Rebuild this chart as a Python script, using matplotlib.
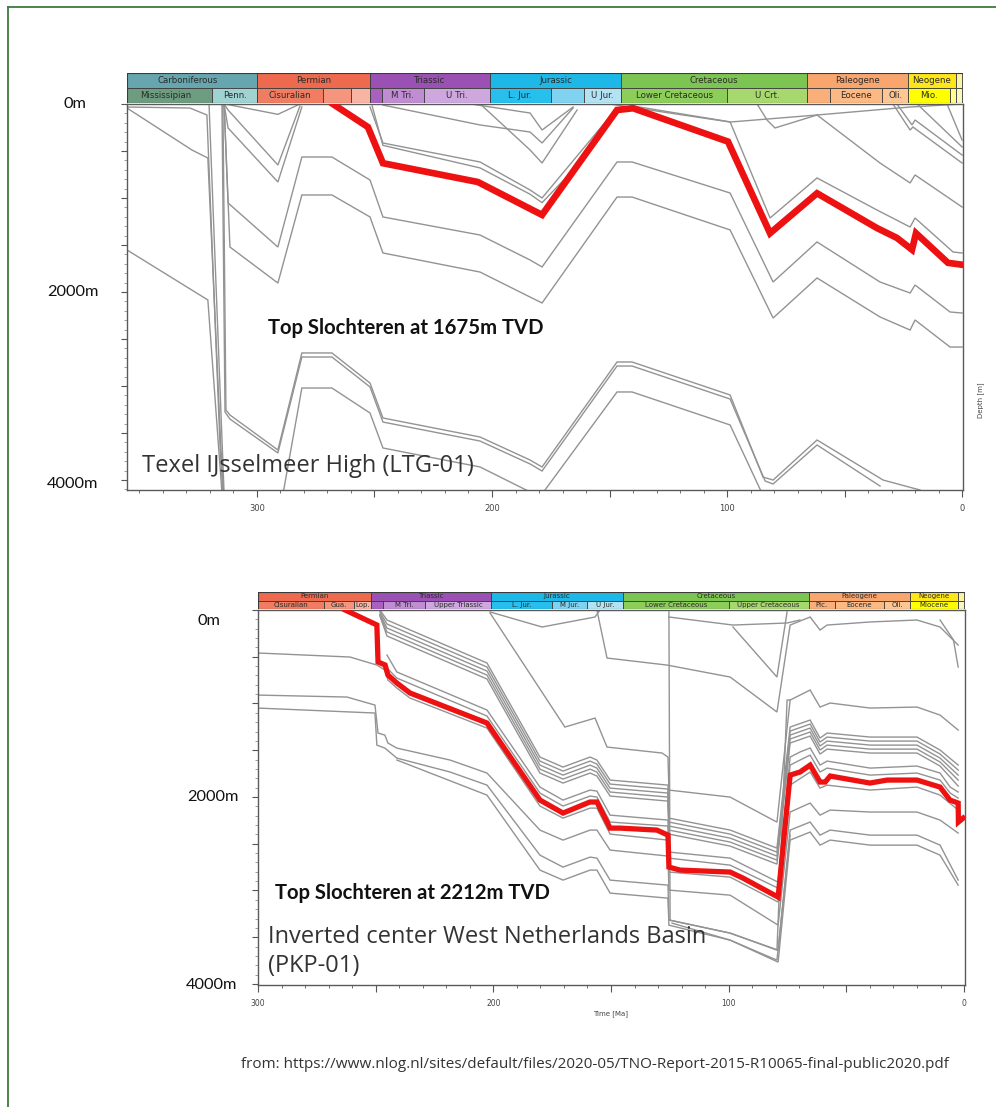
import matplotlib
matplotlib.use("Agg")
import matplotlib.pyplot as plt
from matplotlib.patches import Rectangle
from matplotlib.ticker import MultipleLocator, FixedLocator, FuncFormatter
from matplotlib.lines import Line2D

W, H = 996, 1107

# ---------------- stratigraphy bars ----------------
TOP_PERIODS = [("Carboniferous", 358.9, 300, "#67A6AE"), ("Permian", 300, 252, "#EE6A4E"),
               ("Triassic", 252, 201, "#9B51B4"), ("Jurassic", 201, 145, "#1EB8E8"),
               ("Cretaceous", 145, 66, "#7DC552"), ("Paleogene", 66, 23, "#F9A56E"),
               ("Neogene", 23, 2.6, "#FFE619"), ("", 2.6, 0, "#F9F5A0")]
TOP_EPOCHS = [("Mississipian", 358.9, 319, "#6E9C80"), ("Penn.", 319, 300, "#A0D2D2"),
              ("Cisuralian", 300, 272, "#F07D62"), ("", 272, 260, "#F5957E"), ("", 260, 252, "#F8B5A3"),
              ("", 252, 247, "#A961C0"), ("M Tri.", 247, 229, "#C18DD2"), ("U Tri.", 229, 201, "#CEA7DE"),
              ("L. Jur.", 201, 175, "#27C0EE"), ("", 175, 161, "#7FD3F0"), ("U Jur.", 161, 145, "#B3E3F3"),
              ("Lower Cretaceous", 145, 100, "#8DCD5A"), ("U Crt.", 100, 66, "#A7D86E"),
              ("", 66, 56, "#FAAE79"), ("Eocene", 56, 33.9, "#FCB983"), ("Oli.", 33.9, 23, "#FDC794"),
              ("Mio.", 23, 5.3, "#FFFF00"), ("", 5.3, 2.6, "#FFFF90"), ("", 2.6, 0, "#F9F8C0")]
BOT_PERIODS = [("Permian", 300, 252, "#EE6A4E"), ("Triassic", 252, 201, "#9B51B4"),
               ("Jurassic", 201, 145, "#1EB8E8"), ("Cretaceous", 145, 66, "#7DC552"),
               ("Paleogene", 66, 23, "#F9A56E"), ("Neogene", 23, 2.6, "#FFE619"), ("", 2.6, 0, "#F9F5A0")]
BOT_EPOCHS = [("Cisuralian", 300, 272, "#F07D62"), ("Gua.", 272, 259, "#F5957E"), ("Lop.", 259, 252, "#F8B5A3"),
              ("", 252, 247, "#A961C0"), ("M Tri.", 247, 229, "#C18DD2"), ("Upper Triassic", 229, 201, "#CEA7DE"),
              ("L. Jur.", 201, 175, "#27C0EE"), ("M Jur.", 175, 160, "#7FD3F0"), ("U Jur.", 160, 145, "#B3E3F3"),
              ("Lower Cretaceous", 145, 100, "#8DCD5A"), ("Upper Cretaceous", 100, 66, "#A7D86E"),
              ("Plc.", 66, 55, "#FAAE79"), ("Eocene", 55, 34, "#FCB983"), ("Oli.", 34, 23, "#FDC794"),
              ("Miocene", 23, 2.5, "#FFFF00"), ("", 2.5, 0, "#F9F8C0")]

# ---------------- top well (LTG-01): age [Ma], depth [m] ----------------
TOP_RED_AGE = [267.7, 252.8, 246.4, 206, 178.7, 146.8, 140, 99.6, 81.7, 61.7, 36.2, 27.7, 21.3, 19.6, 6, 0]
TOP_RED_DEPTH = [0, 245, 630, 830, 1180, 64, 45, 400, 1375, 950, 1320, 1425, 1550, 1375, 1690, 1710]

TOP_C1 = ([355.3, 328.5, 321.3, 315.7, 314.5], [32, 43, 117, 3650, 4139])
TOP_C2 = ([355.3, 327.7, 320.9, 315.3, 314], [43, 489, 575, 3681, 4213])
TOP_C3 = ([355.3, 320.9, 314.9], [1553, 2085, 4139])
TOP_C4 = ([320.4, 314], [0, 4139])
TOP_B1 = ([314.5, 313.2, 311.5, 291.1, 280.9, 268.1, 251.9, 246.4, 205.1, 183.8, 178.7, 146.8, 140.4, 98.7, 84.7, 80.4, 61.7, 33.6, 17.9],
          [0, 3256, 3309, 3681, 2649, 2649, 2969, 3341, 3543, 3788, 3862, 2745, 2745, 3096, 3969, 4001, 3575, 4001, 4107])
TOP_B2 = ([314.9, 313.6, 311.5, 291.1, 280.9, 268.1, 251.9, 246.4, 205.1, 183.8, 178.7, 146.8, 140.4, 98.7, 83.8, 80.4, 61.7, 34.9],
          [0, 3277, 3352, 3713, 2692, 2692, 3011, 3384, 3586, 3830, 3905, 2788, 2788, 3139, 4011, 4043, 3628, 4065])
TOP_B3 = ([289, 280.9, 268.1, 251.9, 246.4, 205.1, 179.6, 146.8, 140.4, 98.7, 83.8],
          [4160, 3022, 3022, 3288, 3660, 3862, 4180, 3064, 3064, 3415, 4213])
TOP_V0 = ([313.6, 291.1, 281.7], [0, 110, 0])
TOP_V1 = ([314, 312.3, 291.1, 281.7], [0, 64, 649, 21])
TOP_V2 = ([314, 312.3, 291.1, 280.9], [0, 255, 830, 32])
TOP_V3 = ([314, 312.3, 291.1, 280.9, 268.1, 251.9, 246.4, 205.1, 183.8, 178.7, 146.8, 140.4, 98.7, 80.4, 61.7, 34.9, 22.1, 20, 5.1, 0],
          [0, 1053, 1522, 564, 564, 809, 1202, 1394, 1660, 1734, 617, 617, 947, 1894, 1468, 1894, 2011, 1926, 2213, 2224])
TOP_V4 = ([314, 311.5, 291.1, 280.9, 268.1, 251.9, 246.4, 205.1, 183.8, 178.7, 146.8, 140.4, 98.7, 80.4, 61.7, 34.9, 22.1, 20, 5.1, 0],
          [0, 1522, 1905, 968, 968, 1202, 1585, 1788, 2054, 2117, 990, 990, 1340, 2277, 1851, 2266, 2405, 2298, 2586, 2586])
TOP_A1 = ([251.9, 246.4, 205.1, 183.8, 178.7, 146.8, 140, 98.7, 81.7, 61.7, 36.2, 22.1, 20, 3.8, 0],
          [32, 415, 617, 915, 1000, 43, 21, 190, 1213, 787, 1128, 1309, 1213, 1575, 1585])
TOP_A2 = ([251, 246.4, 205.1, 183.8, 178.7, 160, 147], [21, 440, 680, 960, 1050, 560, 60])
TOP_S1 = ([150, 98.7, 61.7, 22.1, 0], [0, 192, 117, 32, 0])
TOP_S2 = ([87.2, 83, 79.6, 61.7], [0, 170, 255, 117])
TOP_R1 = ([61.7, 34.9, 22.1, 20, 0], [117, 628, 840, 755, 1096])
TOP_R2 = ([29.4, 22.1, 20.9, 0], [0, 277, 245, 628])
TOP_R3 = ([27.7, 21.3, 20, 0], [0, 223, 170, 543])
TOP_R4 = ([19.1, 0], [0, 457])
TOP_R5 = ([6.4, 0], [0, 383])
TOP_U1 = ([209, 183.8, 178.7, 165.5], [0, 96, 277, 32])
TOP_U2 = ([246.4, 205.1, 183.8, 178.7, 165.5], [11, 223, 298, 415, 43])
TOP_U3 = ([205, 183.8, 178.7, 163.8], [0, 489, 628, 64])

TOP_GRAY = [TOP_C1, TOP_C2, TOP_C3, TOP_C4, TOP_B1, TOP_B2, TOP_B3, TOP_V0, TOP_V1, TOP_V2, TOP_V3,
            TOP_V4, TOP_A1, TOP_A2, TOP_S1, TOP_S2, TOP_R1, TOP_R2, TOP_R3, TOP_R4, TOP_R5,
            TOP_U1, TOP_U2, TOP_U3]

# ---------------- bottom well (PKP-01) ----------------
BOT_RED_AGE = [263, 249.5, 249, 246, 244.8, 241, 235.4, 202.7, 180.2, 170.4, 159, 156, 150.4, 146.2, 130.5,
               125.8, 125.4, 120.7, 99.4, 93.9, 79, 73.9, 69.7, 65.4, 61.2, 59, 56.9, 40, 32.7, 20, 10.2, 6,
               2.5, 2.4, 0.4]
BOT_RED_DEPTH = [0, 160, 556, 588, 695, 781, 888, 1209, 2033, 2172, 2054, 2054, 2333, 2333, 2354,
                 2408, 2750, 2782, 2803, 2868, 3071, 1766, 1733, 1659, 1840, 1840, 1776, 1851, 1819, 1819, 1894, 2033,
                 2065, 2268, 2226]

BOT_RB1 = ([300, 260.9, 249.5, 246.1, 244.8, 241, 235.4, 202.7, 180.2, 170.4, 158.9, 156, 150.4, 125.8, 125.4, 99.4,
            79, 73.9, 65.4, 61.2, 58.2, 39.9, 20, 10.2, 2.5],
           [460, 503, 589, 642, 749, 835, 942, 1263, 2097, 2226, 2119, 2119, 2397, 2461, 2803, 2857,
            3124, 1873, 1733, 1905, 1873, 1926, 1894, 1980, 2140])
BOT_RB2 = ([300, 262.2, 250.3, 249, 246.1, 244.8, 241, 218.4, 202.7, 180.2, 170.4, 158.9, 156, 150.4, 125.8, 125.4,
            99.4, 79, 73.9, 65.4, 61.2, 56.9, 39.9, 20, 10.2, 2.5],
           [910, 931, 1017, 1316, 1338, 1423, 1477, 1605, 1744, 2354, 2461, 2354, 2354, 2568, 2632, 2996,
            3050, 3371, 2161, 2065, 2194, 2140, 2161, 2161, 2247, 2386])
BOT_RB3 = ([300, 250.3, 249.5, 246.1, 241, 218.4, 202.7, 180.2, 170.4, 158.9, 156, 150.4, 125.8, 125.4, 99.4, 79,
            73.9, 65.4, 61.2, 56.9, 39.9, 20, 10.2, 2.5],
           [1049, 1102, 1445, 1477, 1584, 1733, 1873, 2622, 2750, 2643, 2654, 2889, 2943, 3317, 3456, 3638,
            2354, 2268, 2408, 2354, 2408, 2408, 2515, 2889])
BOT_RB4 = ([241, 202.7, 180.2, 170.4, 158.9, 156, 150.4, 125.8, 125.4, 99.4, 79, 73.9, 65.4, 61.2, 56.9, 39.9, 20,
            10.2, 2.5],
           [1605, 1980, 2782, 2889, 2782, 2782, 3028, 3082, 3371, 3531, 3766, 2461, 2375, 2515, 2461, 2515, 2515,
            2622, 2943])
BOT_CL_AGE = [248.2, 245.2, 202.7, 180.2, 170.4, 158.9, 156, 150.4, 125.8, 125.4, 99.4, 79.5, 73.9, 65.4, 61.2,
              58.2, 39.9, 20, 10.2, 2.5]
BOT_CL1 = [0, 107, 567, 1573, 1680, 1573, 1605, 1819, 1873, 2226, 2354, 2547, 1252, 1177, 1370, 1316, 1359, 1359, 1498, 1659]
BOT_CL2 = [21, 150, 610, 1616, 1723, 1616, 1648, 1862, 1915, 2268, 2397, 2590, 1295, 1220, 1413, 1359, 1402, 1402, 1541, 1712]
BOT_CL3 = [43, 193, 653, 1659, 1766, 1659, 1691, 1905, 1958, 2311, 2440, 2632, 1338, 1263, 1455, 1402, 1445, 1445, 1584, 1766]
BOT_CL4 = [54, 235, 696, 1702, 1808, 1702, 1734, 1947, 2001, 2354, 2482, 2675, 1380, 1305, 1498, 1445, 1488, 1488, 1626, 1819]
BOT_CL5 = [64, 278, 738, 1744, 1851, 1744, 1776, 1990, 2044, 2397, 2525, 2718, 1423, 1348, 1541, 1488, 1530, 1530, 1669, 1883]
BOT_RA_AGE = [245.2, 241, 202.7, 180.2, 170.4, 158.9, 156, 150.4, 125.8, 125.4, 99.4, 79, 73.9, 69.7, 65.4, 61.2,
              58.2, 39.9, 20, 10.2, 5.9, 2.5]
BOT_RA1 = [621, 728, 1134, 1958, 2097, 1990, 2001, 2268, 2311, 2654, 2729, 2975, 1659, 1605, 1552, 1733, 1691, 1766,
           1744, 1819, 1958, 2012]
BOT_RA2 = [482, 663, 1070, 1894, 2033, 1926, 1937, 2194, 2247, 2589, 2654, 2911, 1573, 1519, 1476, 1659, 1616, 1691,
           1669, 1744, 1894, 1947]
BOT_T1 = ([201.4, 179.3, 156.8, 154.7], [21, 182, 75, 0])
BOT_T2 = ([201.4, 169.6, 156.8, 151.7, 128.3, 125.8, 125.4, 99.4, 79.5, 73.9, 65.4, 61.2, 56.9, 39.9, 20, 10.2, 2.5],
          [32, 1252, 1156, 1466, 1530, 1573, 1926, 2001, 2269, 963, 856, 1038, 995, 1049, 1038, 1124, 1284])
BOT_T3 = ([156, 151.7, 126.2, 99.4, 79.5, 73.9, 65.4, 61.2, 58.2, 39.9, 20, 10.2, 2.5],
          [0, 514, 589, 717, 1091, 161, 75, 214, 161, 128, 107, 182, 375])
BOT_T4 = ([125.4, 124.9, 99.4, 79.5, 75.2, 73.9], [21, 3317, 3456, 3638, 963, 963])
BOT_T5 = ([124.1, 99.4, 79.5, 73.9], [3349, 3531, 3745, 2408])
BOT_T6 = ([125.4, 98.2, 75.2, 69.7], [75, 161, 139, 107])
BOT_T7 = ([98.2, 79.5, 75.2], [182, 717, 21])
BOT_T8 = ([10.2, 4.5, 2.5], [107, 320, 610])

BOT_GRAY = [BOT_RB1, BOT_RB2, BOT_RB3, BOT_RB4, (BOT_CL_AGE, BOT_CL1), (BOT_CL_AGE, BOT_CL2),
            (BOT_CL_AGE, BOT_CL3), (BOT_CL_AGE, BOT_CL4), (BOT_CL_AGE, BOT_CL5), (BOT_RA_AGE, BOT_RA1),
            (BOT_RA_AGE, BOT_RA2), BOT_T1, BOT_T2, BOT_T3, BOT_T4, BOT_T5, BOT_T6, BOT_T7, BOT_T8]

GRAY = "#939393"
RED = "#EE1111"

fig = plt.figure(figsize=(W / 100, H / 100), dpi=100)
fig.patch.set_facecolor("white")


def box(x0, y0, x1, y1):
    return [x0 / W, 1 - y1 / H, (x1 - x0) / W, (y1 - y0) / H]


def strat_bar(rect, xlim, periods, epochs, fs):
    a = fig.add_axes(rect)
    a.set_xlim(*xlim)
    a.set_ylim(0, 2)
    a.axis("off")
    for row, items in ((1, periods), (0, epochs)):
        for name, start, end, col in items:
            a.add_patch(Rectangle((end, row), start - end, 1, facecolor=col, edgecolor="#3a3a3a", lw=0.6))
            if name:
                a.text((start + end) / 2, row + 0.5, name, ha="center", va="center", fontsize=fs,
                       color="#2a2a2a", clip_on=True)
    a.add_patch(Rectangle((xlim[1], 0), xlim[0] - xlim[1], 2, fill=False, edgecolor="#3a3a3a", lw=0.8))
    return a


def style_axes(a, xlim, ylim, fs):
    a.set_xlim(*xlim)
    a.set_ylim(*ylim)
    a.xaxis.set_major_locator(FixedLocator([300, 250, 200, 150, 100, 50, 0]))
    a.xaxis.set_major_formatter(FuncFormatter(lambda v, p: f"{v:.0f}" if round(v) % 100 == 0 else ""))
    a.xaxis.set_minor_locator(MultipleLocator(10))
    a.yaxis.set_major_locator(MultipleLocator(500))
    a.yaxis.set_minor_locator(MultipleLocator(100))
    a.tick_params(axis="x", which="major", direction="out", length=5, width=0.8, colors="#555555",
                  labelsize=fs, labelcolor="#444444", pad=5)
    a.tick_params(axis="x", which="minor", direction="out", length=2.5, width=0.6, colors="#555555")
    a.tick_params(axis="y", which="major", direction="out", length=4, width=0.8, colors="#555555", labelleft=False)
    a.tick_params(axis="y", which="minor", direction="out", length=2, width=0.5, colors="#777777")
    for s in a.spines.values():
        s.set_color("#5a5a5a")
        s.set_linewidth(1.0)


# ---------------- top chart ----------------
ax1 = fig.add_axes(box(127, 104, 963, 490))
style_axes(ax1, (355.3, -0.4), (4107, 0), 6)
for ages, depths in TOP_GRAY:
    ax1.plot(ages, depths, color=GRAY, lw=1.0, solid_joinstyle="miter")
ax1.plot(TOP_RED_AGE, TOP_RED_DEPTH, color=RED, lw=4.8, solid_joinstyle="miter", zorder=5)
strat_bar(box(127, 73, 963, 103), (355.3, -0.4), TOP_PERIODS, TOP_EPOCHS, 6.2)

# ---------------- bottom chart ----------------
ax2 = fig.add_axes(box(258, 610, 965, 985))
style_axes(ax2, (300, -0.4), (4011, 0), 5.5)
for ages, depths in BOT_GRAY:
    ax2.plot(ages, depths, color=GRAY, lw=1.0, solid_joinstyle="miter")
ax2.plot(BOT_RED_AGE, BOT_RED_DEPTH, color=RED, lw=3.8, solid_joinstyle="miter", zorder=5)
strat_bar(box(258, 592, 965, 609), (300, -0.4), BOT_PERIODS, BOT_EPOCHS, 5.0)

# ---------------- annotations ----------------
def ftext(x, y, s, **kw):
    fig.text(x / W, 1 - y / H, s, **kw)

lab = dict(fontsize=11.8, family="Lato", color="#111111", ha="center", va="center")
ftext(75, 104, "0m", **lab)
ftext(73, 292, "2000m", **lab)
ftext(73, 484, "4000m", **lab)
ftext(209, 621, "0m", **lab)
ftext(213, 797, "2000m", **lab)
ftext(212, 985, "4000m", **lab)

ftext(268, 328, "Top Slochteren at 1675m TVD", fontsize=14.6, family="Lato", weight="bold",
      color="#111111", ha="left", va="center")
ftext(142, 466, "Texel IJsselmeer High (LTG-01)", fontsize=17, family="Open Sans",
      color="#333333", ha="left", va="center")
ftext(275, 893, "Top Slochteren at 2212m TVD", fontsize=14.6, family="Lato", weight="bold",
      color="#111111", ha="left", va="center")
ftext(268, 937, "Inverted center West Netherlands Basin", fontsize=17, family="Open Sans",
      color="#333333", ha="left", va="center")
ftext(268, 966, "(PKP-01)", fontsize=17, family="Open Sans", color="#333333", ha="left", va="center")

ftext(981, 400, "Depth [m]", fontsize=5, rotation=90, color="#444444", ha="center", va="center")
ftext(611, 1014, "Time [Ma]", fontsize=5, color="#444444", ha="center", va="center")

ftext(241, 1064, "from: https://www.nlog.nl/sites/default/files/2020-05/TNO-Report-2015-R10065-final-public2020.pdf",
      fontsize=11, family="Open Sans", color="#333333", ha="left", va="center")

# frame of the slide (top and left edges)
fig.add_artist(Line2D([8 / W, 1.0], [1 - 7 / H, 1 - 7 / H], color="#3E7A3E", lw=1.3))
fig.add_artist(Line2D([8 / W, 8 / W], [0.0, 1 - 7 / H], color="#3E7A3E", lw=1.3))

fig.savefig("out.png", dpi=100, facecolor="white")
